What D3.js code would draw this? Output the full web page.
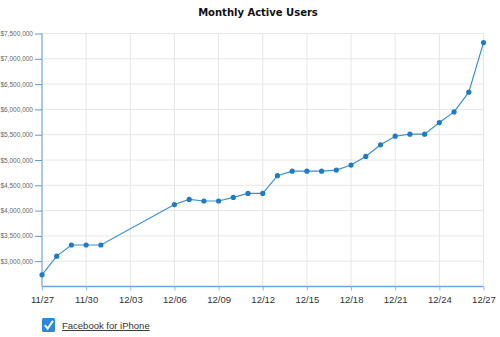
<!DOCTYPE html>
<html><head><meta charset="utf-8">
<script src="https://cdn.jsdelivr.net/npm/d3@7"></script>
<style>
html,body{margin:0;padding:0;background:#fff;}
svg{display:block;}
</style></head>
<body>
<svg id="chart" width="500" height="337"></svg>
<script>
const dates = ["2010-11-27","2010-11-28","2010-11-29","2010-11-30","2010-12-01",
  "2010-12-06","2010-12-07","2010-12-08","2010-12-09","2010-12-10","2010-12-11","2010-12-12",
  "2010-12-13","2010-12-14","2010-12-15","2010-12-16","2010-12-17","2010-12-18","2010-12-19",
  "2010-12-20","2010-12-21","2010-12-22","2010-12-23","2010-12-24","2010-12-25","2010-12-26","2010-12-27"];
const users = [2730000,3100000,3320000,3320000,3320000,
  4120000,4220000,4190000,4190000,4260000,4340000,4340000,
  4690000,4780000,4780000,4780000,4800000,4900000,5070000,
  5300000,5470000,5510000,5510000,5740000,5950000,6340000,7320000];
const xTickDates = ["2010-11-27","2010-11-30","2010-12-03","2010-12-06","2010-12-09","2010-12-12",
  "2010-12-15","2010-12-18","2010-12-21","2010-12-24","2010-12-27"];
const xTickLabels = ["11/27","11/30","12/03","12/06","12/09","12/12","12/15","12/18","12/21","12/24","12/27"];
const yTicks = [3000000,3500000,4000000,4500000,5000000,5500000,6000000,6500000,7000000,7500000];
const yDomain = [2500000,7500000];
const title = "Monthly Active Users";
const seriesName = "Facebook for iPhone";

const parse = d3.utcParse("%Y-%m-%d");
const data = dates.map((d,i)=>({date:parse(d), v:users[i]}));
const svg = d3.select("#chart");
const L=42, R=483.5, T=33.5, B=286.5;

const x = d3.scaleUtc().domain([parse(dates[0]), parse(dates[dates.length-1])]).range([L,R]);
const y = d3.scaleLinear().domain(yDomain).range([B,T]);

// gridlines
svg.append("g").selectAll("line").data(yTicks).join("line")
  .attr("x1",L).attr("x2",R).attr("y1",d=>y(d)).attr("y2",d=>y(d))
  .attr("stroke","#e6e6e6").attr("stroke-width",1);
svg.append("g").selectAll("line").data(xTickDates.slice(1)).join("line")
  .attr("x1",d=>x(parse(d))).attr("x2",d=>x(parse(d))).attr("y1",T).attr("y2",B)
  .attr("stroke","#e6e6e6").attr("stroke-width",1);

// y axis
const fmt = d3.format("$,");
const yAxis = svg.append("g").attr("transform",`translate(${L},0)`)
  .call(d3.axisLeft(y).tickValues(yTicks).tickSize(7).tickPadding(2).tickFormat(fmt));
yAxis.select(".domain").attr("stroke","#a9c9e6").attr("stroke-width",2).attr("d",`M0,${T}V${B}`);
yAxis.selectAll(".tick line").attr("stroke","#5b9bd5").attr("stroke-width",1);
yAxis.selectAll("text").attr("fill","#666").style("font-family","Liberation Sans, Arial, sans-serif").style("font-size","6.5px");

// x axis
const xAxis = svg.append("g").attr("transform",`translate(0,${B})`)
  .call(d3.axisBottom(x).tickValues(xTickDates.map(parse)).tickSize(4).tickPadding(6)
    .tickFormat((d,i)=>xTickLabels[i]));
xAxis.select(".domain").attr("stroke","#6aa6da").attr("stroke-width",1.5).attr("d",`M${L},0H${R}`);
xAxis.selectAll(".tick line").attr("stroke","#8fbbe2");
xAxis.selectAll("text").attr("fill","#333").style("font-family","Liberation Sans, Arial, sans-serif").style("font-size","9.5px");

// line
svg.append("path").datum(data)
  .attr("d",d3.line().x(d=>x(d.date)).y(d=>y(d.v)))
  .attr("fill","none").attr("stroke","#3d8fd1").attr("stroke-width",1.2);
svg.append("g").selectAll("circle").data(data).join("circle")
  .attr("cx",d=>x(d.date)).attr("cy",d=>y(d.v)).attr("r",2.6)
  .attr("fill","#1f7cc4");

// title
svg.append("text").attr("x",258).attr("y",16).attr("text-anchor","middle")
  .style("font-family","DejaVu Sans, Verdana, sans-serif").style("font-weight","bold").style("font-size","10px")
  .attr("fill","#111").text(title);

// legend
const lg = svg.append("g").attr("transform","translate(42,318)");
lg.append("rect").attr("width",13).attr("height",14).attr("rx",1.5).attr("fill","#2a8ad8");
lg.append("path").attr("d","M2.8,7.2 L5.6,10.5 L11,2.8").attr("fill","none").attr("stroke","#fff").attr("stroke-width",2);
lg.append("text").attr("x",20).attr("y",11).attr("fill","#333")
  .style("font-family","Liberation Sans, Arial, sans-serif").style("font-size","9.5px")
  .style("text-decoration","underline").text(seriesName);
</script>
</body></html>
